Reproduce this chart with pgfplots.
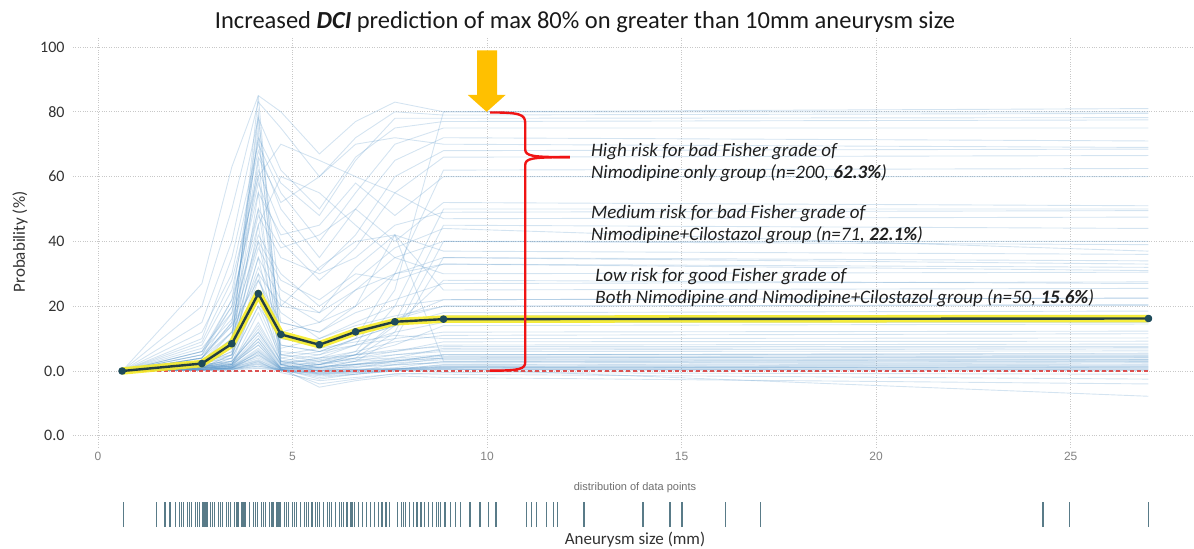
\documentclass[border=0pt]{standalone}
\usepackage{fontspec}
\setmainfont{Carlito}
\newfontfamily\arialfont{Liberation Sans}
\usepackage{pgfplots}
\pgfplotsset{compat=1.18}

\definecolor{iceblue}{RGB}{90,150,200}
\definecolor{pdpyellow}{RGB}{245,235,40}
\definecolor{pdpdark}{RGB}{35,62,68}
\definecolor{pdpmark}{RGB}{30,75,90}
\definecolor{zeroline}{RGB}{220,80,80}
\definecolor{rugcol}{RGB}{60,100,115}
\definecolor{arrowcol}{RGB}{255,192,0}
\definecolor{bracered}{RGB}{240,20,20}
\definecolor{gridcol}{RGB}{200,200,200}
\definecolor{labcol}{RGB}{50,50,50}

\pgfplotsset{ice/.style={iceblue, opacity=0.26, line width=0.9bp}}

\begin{document}
\begin{tikzpicture}
\begin{axis}[
    at={(0,0)}, anchor=south west,
    scale only axis,
    width=1121bp, height=411bp,
    xmin=-0.643, xmax=28.17,
    ymin=-23.46, ymax=103.4,
    axis line style={draw=none},
    major tick length=0pt,
    xtick={0,5,10,15,20,25},
    xticklabels={0,5,10,15,20,25},
    ytick={-20,0,20,40,60,80,100},
    yticklabels={0.0,0.0,20,40,60,80,100},
    xticklabel style={font=\arialfont\fontsize{12bp}{14bp}\selectfont, text={rgb,255:red,130;green,130;blue,130}, yshift=-2bp},
    yticklabel style={font=\fontsize{16bp}{18bp}\selectfont, text=labcol, xshift=-5bp},
    grid=major,
    grid style={gridcol, dotted, line width=0.7bp},
]

% individual conditional expectation curves
\addplot[ice] coordinates {(0.62,0) (2.67,0.5) (3.44,0.8) (4.12,1.5) (4.70,0.5) (5.69,0.3) (6.62,0.5) (7.63,0.8) (8.88,1.0) (27,1.2)};
\addplot[ice] coordinates {(0.62,0) (2.67,0.3) (3.44,0.5) (4.12,2.5) (4.70,0.2) (5.69,-0.5) (6.62,0) (7.63,0.5) (8.88,1.5) (27,1.8)};
\addplot[ice] coordinates {(0.62,0) (2.67,1) (3.44,1.2) (4.12,4) (4.70,0.5) (5.69,-1) (6.62,-0.5) (7.63,0.5) (8.88,2) (27,2.5)};
\addplot[ice] coordinates {(0.62,0) (2.67,0.5) (3.44,1) (4.12,6) (4.70,1) (5.69,0) (6.62,0.5) (7.63,1) (8.88,3) (27,3.2)};
\addplot[ice] coordinates {(0.62,0) (2.67,1.5) (3.44,2) (4.12,8) (4.70,0.5) (5.69,-2) (6.62,-1) (7.63,0) (8.88,0.5) (27,0.3)};
\addplot[ice] coordinates {(0.62,0) (2.67,0.2) (3.44,0.4) (4.12,3) (4.70,-0.5) (5.69,-3) (6.62,-2) (7.63,-1) (8.88,-0.5) (27,-1)};
\addplot[ice] coordinates {(0.62,0) (2.67,0.8) (3.44,1.5) (4.12,10) (4.70,1.5) (5.69,1) (6.62,2) (7.63,3) (8.88,4) (27,4.5)};
\addplot[ice] coordinates {(0.62,0) (2.67,2) (3.44,3) (4.12,12) (4.70,2) (5.69,2.5) (6.62,3.5) (7.63,4) (8.88,5) (27,5.2)};
\addplot[ice] coordinates {(0.62,0) (2.67,0.5) (3.44,0.8) (4.12,5) (4.70,0.8) (5.69,-5) (6.62,-3) (7.63,-1.5) (8.88,-2) (27,-4)};
\addplot[ice] coordinates {(0.62,0) (2.67,1) (3.44,2) (4.12,15) (4.70,3) (5.69,3) (6.62,4) (7.63,5) (8.88,6.5) (27,6.8)};
\addplot[ice] coordinates {(0.62,0) (2.67,0.3) (3.44,0.6) (4.12,2) (4.70,0) (5.69,-1.5) (6.62,-1) (7.63,0) (8.88,0.8) (27,-7.8)};
\addplot[ice] coordinates {(0.62,0) (2.67,1.2) (3.44,1.5) (4.12,7) (4.70,1) (5.69,1.5) (6.62,2) (7.63,2.5) (8.88,3.5) (27,3.6)};
\addplot[ice] coordinates {(0.62,0) (2.67,0.6) (3.44,1.8) (4.12,18) (4.70,2.5) (5.69,4) (6.62,5) (7.63,6) (8.88,8) (27,8.3)};
\addplot[ice] coordinates {(0.62,0) (2.67,1.8) (3.44,2.5) (4.12,9) (4.70,0.8) (5.69,0.5) (6.62,1.5) (7.63,2) (8.88,2.5) (27,2.8)};
\addplot[ice] coordinates {(0.62,0) (2.67,0.4) (3.44,0.7) (4.12,1) (4.70,0.4) (5.69,0.2) (6.62,0.4) (7.63,0.6) (8.88,0.7) (27,0.8)};
\addplot[ice] coordinates {(0.62,0) (2.67,2.5) (3.44,4) (4.12,20) (4.70,4) (5.69,6) (6.62,8) (7.63,10) (8.88,12) (27,12.3)};
\addplot[ice] coordinates {(0.62,0) (2.67,0.9) (3.44,1.4) (4.12,4.5) (4.70,0.6) (5.69,-2.5) (6.62,-1) (7.63,0.5) (8.88,1.2) (27,1)};
\addplot[ice] coordinates {(0.62,0) (2.67,3) (3.44,5) (4.12,22) (4.70,5) (5.69,7) (6.62,9) (7.63,11) (8.88,10) (27,10.2)};
\addplot[ice] coordinates {(0.62,0) (2.67,1.5) (3.44,2.2) (4.12,11) (4.70,1.8) (5.69,2) (6.62,3) (7.63,3.5) (8.88,4.5) (27,4.3)};
\addplot[ice] coordinates {(0.62,0) (2.67,0.2) (3.44,0.3) (4.12,0.8) (4.70,0.1) (5.69,-0.8) (6.62,-0.3) (7.63,0.2) (8.88,0.3) (27,0.2)};
\addplot[ice] coordinates {(0.62,0) (2.67,2) (3.44,8) (4.12,85) (4.70,5) (5.69,3) (6.62,5) (7.63,8) (8.88,14) (27,14.5)};
\addplot[ice] coordinates {(0.62,0) (2.67,3) (3.44,10) (4.12,80) (4.70,8) (5.69,6) (6.62,10) (7.63,14) (8.88,18) (27,18.5)};
\addplot[ice] coordinates {(0.62,0) (2.67,1) (3.44,5) (4.12,75) (4.70,3) (5.69,1) (6.62,2) (7.63,4) (8.88,7) (27,7.2)};
\addplot[ice] coordinates {(0.62,0) (2.67,4) (3.44,15) (4.12,72) (4.70,10) (5.69,8) (6.62,12) (7.63,16) (8.88,22) (27,22.5)};
\addplot[ice] coordinates {(0.62,0) (2.67,2) (3.44,6) (4.12,65) (4.70,4) (5.69,2) (6.62,4) (7.63,6) (8.88,9) (27,9.2)};
\addplot[ice] coordinates {(0.62,0) (2.67,5) (3.44,20) (4.12,60) (4.70,15) (5.69,12) (6.62,18) (7.63,22) (8.88,27) (27,27.5)};
\addplot[ice] coordinates {(0.62,0) (2.67,1) (3.44,4) (4.12,55) (4.70,2) (5.69,0) (6.62,1) (7.63,3) (8.88,5) (27,5.5)};
\addplot[ice] coordinates {(0.62,0) (2.67,2) (3.44,12) (4.12,50) (4.70,6) (5.69,5) (6.62,8) (7.63,12) (8.88,15) (27,15)};
\addplot[ice] coordinates {(0.62,0) (2.67,1) (3.44,3) (4.12,45) (4.70,2) (5.69,-1) (6.62,0) (7.63,2) (8.88,4) (27,4)};
\addplot[ice] coordinates {(0.62,0) (2.67,3) (3.44,9) (4.12,40) (4.70,7) (5.69,10) (6.62,14) (7.63,17) (8.88,20) (27,20.2)};
\addplot[ice] coordinates {(0.62,0) (2.67,2) (3.44,7) (4.12,35) (4.70,5) (5.69,4) (6.62,6) (7.63,9) (8.88,11) (27,11.5)};
\addplot[ice] coordinates {(0.62,0) (2.67,1) (3.44,5) (4.12,30) (4.70,3) (5.69,1) (6.62,3) (7.63,5) (8.88,6) (27,6.2)};
\addplot[ice] coordinates {(0.62,0) (2.67,4) (3.44,14) (4.12,28) (4.70,12) (5.69,15) (6.62,20) (7.63,30) (8.88,33) (27,32)};
\addplot[ice] coordinates {(0.62,0) (2.67,1) (3.44,2) (4.12,25) (4.70,2) (5.69,0) (6.62,2) (7.63,3) (8.88,5) (27,4.8)};
\addplot[ice] coordinates {(0.62,0) (2.67,2) (3.44,10) (4.12,78) (4.70,20) (5.69,18) (6.62,25) (7.63,30) (8.88,35) (27,34)};
\addplot[ice] coordinates {(0.62,0) (2.67,27) (3.44,63) (4.12,85) (4.70,80) (5.69,67) (6.62,77) (7.63,83) (8.88,80) (27,80)};
\addplot[ice] coordinates {(0.62,0) (2.67,20) (3.44,50) (4.12,83) (4.70,75) (5.69,60) (6.62,72) (7.63,80) (8.88,79) (27,79.5)};
\addplot[ice] coordinates {(0.62,0) (2.67,15) (3.44,40) (4.12,78) (4.70,62) (5.69,50) (6.62,66) (7.63,75) (8.88,77) (27,77.5)};
\addplot[ice] coordinates {(0.62,0) (2.67,10) (3.44,35) (4.12,70) (4.70,55) (5.69,40) (6.62,55) (7.63,70) (8.88,75) (27,75)};
\addplot[ice] coordinates {(0.62,0) (2.67,12) (3.44,30) (4.12,68) (4.70,50) (5.69,35) (6.62,50) (7.63,65) (8.88,72) (27,71)};
\addplot[ice] coordinates {(0.62,0) (2.67,8) (3.44,25) (4.12,62) (4.70,45) (5.69,31) (6.62,42) (7.63,60) (8.88,68) (27,68.5)};
\addplot[ice] coordinates {(0.62,0) (2.67,6) (3.44,20) (4.12,58) (4.70,40) (5.69,28) (6.62,38) (7.63,55) (8.88,66) (27,66.5)};
\addplot[ice] coordinates {(0.62,0) (2.67,5) (3.44,22) (4.12,55) (4.70,42) (5.69,45) (6.62,58) (7.63,48) (8.88,60) (27,60)};
\addplot[ice] coordinates {(0.62,0) (2.67,7) (3.44,18) (4.12,50) (4.70,38) (5.69,42) (6.62,50) (7.63,40) (8.88,52) (27,51)};
\addplot[ice] coordinates {(0.62,0) (2.67,4) (3.44,15) (4.12,48) (4.70,35) (5.69,30) (6.62,35) (7.63,45) (8.88,49) (27,49.5)};
\addplot[ice] coordinates {(0.62,0) (2.67,9) (3.44,28) (4.12,60) (4.70,70) (5.69,65) (6.62,60) (7.63,55) (8.88,47) (27,47.5)};
\addplot[ice] coordinates {(0.62,0) (2.67,3) (3.44,12) (4.12,42) (4.70,30) (5.69,20) (6.62,28) (7.63,38) (8.88,44) (27,37)};
\addplot[ice] coordinates {(0.62,0) (2.67,6) (3.44,16) (4.12,45) (4.70,60) (5.69,55) (6.62,45) (7.63,35) (8.88,40) (27,40)};
\addplot[ice] coordinates {(0.62,0) (2.67,2) (3.44,10) (4.12,38) (4.70,25) (5.69,18) (6.62,32) (7.63,42) (8.88,37) (27,36)};
\addplot[ice] coordinates {(0.62,0) (2.67,5) (3.44,14) (4.12,40) (4.70,28) (5.69,22) (6.62,30) (7.63,28) (8.88,33) (27,31)};
\addplot[ice] coordinates {(0.62,0) (2.67,3) (3.44,8) (4.12,35) (4.70,22) (5.69,15) (6.62,25) (7.63,35) (8.88,30) (27,30.5)};
\addplot[ice] coordinates {(0.62,0) (2.67,4) (3.44,12) (4.12,30) (4.70,20) (5.69,32) (6.62,40) (7.63,42) (8.88,25) (27,25.5)};
\addplot[ice] coordinates {(0.62,0) (2.67,2) (3.44,6) (4.12,28) (4.70,15) (5.69,12) (6.62,20) (7.63,42) (8.88,3) (27,3.5)};
\addplot[ice] coordinates {(0.62,0) (2.67,3) (3.44,9) (4.12,32) (4.70,18) (5.69,10) (6.62,15) (7.63,20) (8.88,22) (27,22.5)};
\addplot[ice] coordinates {(0.62,0) (2.67,1) (3.44,4) (4.12,20) (4.70,10) (5.69,8) (6.62,12) (7.63,16) (8.88,20) (27,20.5)};
\addplot[ice] coordinates {(0.62,0) (2.67,2) (3.44,5) (4.12,24) (4.70,8) (5.69,6) (6.62,10) (7.63,14) (8.88,17) (27,17.2)};
\addplot[ice] coordinates {(0.62,0) (2.67,4) (3.44,18) (4.12,66) (4.70,52) (5.69,60) (6.62,70) (7.63,72) (8.88,70) (27,69)};
\addplot[ice] coordinates {(0.62,0) (2.67,6) (3.44,22) (4.12,72) (4.70,58) (5.69,48) (6.62,65) (7.63,78) (8.88,78) (27,78.2)};
\addplot[ice] coordinates {(0.62,0) (2.67,1) (3.44,2) (4.12,8) (4.70,1) (5.69,2) (6.62,5) (7.63,15) (8.88,45) (27,44)};
\addplot[ice] coordinates {(0.62,0) (2.67,0.5) (3.44,1) (4.12,5) (4.70,0.5) (5.69,1) (6.62,3) (7.63,10) (8.88,35) (27,33)};
\addplot[ice] coordinates {(0.62,0) (2.67,2) (3.44,3) (4.12,12) (4.70,2) (5.69,4) (6.62,8) (7.63,25) (8.88,80) (27,81)};
\addplot[ice] coordinates {(0.62,0) (2.67,1) (3.44,2) (4.12,10) (4.70,1) (5.69,3) (6.62,6) (7.63,20) (8.88,50) (27,50)};
\addplot[ice] coordinates {(0.62,0) (2.67,0.5) (3.44,1) (4.12,6) (4.70,0.5) (5.69,2) (6.62,4) (7.63,12) (8.88,40) (27,39)};
\addplot[ice] coordinates {(0.62,0) (2.67,1) (3.44,3) (4.12,14) (4.70,3) (5.69,5) (6.62,10) (7.63,30) (8.88,62) (27,62.5)};
\addplot[ice] coordinates {(0.62,0) (2.67,0.8) (3.44,1.5) (4.12,9) (4.70,1) (5.69,2) (6.62,5) (7.63,14) (8.88,28) (27,27)};
\addplot[ice] coordinates {(0.62,0) (2.67,0.2) (3.44,0.4) (4.12,1.5) (4.70,0.2) (5.69,0.1) (6.62,0.3) (7.63,0.4) (8.88,0.6) (27,0.5)};
\addplot[ice] coordinates {(0.62,0) (2.67,0.6) (3.44,1.0) (4.12,3.5) (4.70,0.3) (5.69,-1.2) (6.62,-0.6) (7.63,0.2) (8.88,1.1) (27,1.3)};
\addplot[ice] coordinates {(0.62,0) (2.67,0.4) (3.44,0.9) (4.12,2.8) (4.70,0.2) (5.69,-0.3) (6.62,0.2) (7.63,0.7) (8.88,1.8) (27,2.1)};
\addplot[ice] coordinates {(0.62,0) (2.67,1.1) (3.44,1.6) (4.12,5.5) (4.70,0.7) (5.69,0.8) (6.62,1.2) (7.63,1.8) (8.88,2.8) (27,2.9)};
\addplot[ice] coordinates {(0.62,0) (2.67,0.7) (3.44,1.1) (4.12,3.2) (4.70,0.4) (5.69,-0.6) (6.62,0) (7.63,0.6) (8.88,1.4) (27,1.5)};
\addplot[ice] coordinates {(0.62,0) (2.67,1.4) (3.44,2.4) (4.12,13) (4.70,2.2) (5.69,3.5) (6.62,5) (7.63,6.5) (8.88,7.5) (27,7.6)};
\addplot[ice] coordinates {(0.62,0) (2.67,0.5) (3.44,0.9) (4.12,2.2) (4.70,0.3) (5.69,-4) (6.62,-2.5) (7.63,-0.8) (8.88,-1) (27,-2.5)};
\addplot[ice] coordinates {(0.62,0) (2.67,0.9) (3.44,1.3) (4.12,6.5) (4.70,0.9) (5.69,1.2) (6.62,2.2) (7.63,3.2) (8.88,4) (27,4.1)};

% zero reference
\addplot[zeroline, line width=1.2bp, dash pattern=on 4bp off 3bp] coordinates {(0.62,0) (27,0)};

% partial dependence (average)
\addplot[pdpyellow, opacity=0.9, line width=7.5bp, line join=round] coordinates {
  (0.62,0) (2.67,2.3) (3.44,8.4) (4.12,23.9) (4.70,11.3) (5.69,8.1) (6.62,12.1) (7.63,15.2) (8.88,16.0) (27,16.2)};
\addplot[pdpdark, line width=2.4bp, line join=round, mark=*, mark size=2.6bp, mark options={fill=pdpmark, draw=pdpmark}] coordinates {
  (0.62,0) (2.67,2.3) (3.44,8.4) (4.12,23.9) (4.70,11.3) (5.69,8.1) (6.62,12.1) (7.63,15.2) (8.88,16.0) (27,16.2)};

% annotations
\fill[arrowcol] (axis cs:9.743,99) -- (axis cs:10.257,99) -- (axis cs:10.257,85.2) -- (axis cs:10.476,85.2)
  -- (axis cs:9.99,80) -- (axis cs:9.504,85.2) -- (axis cs:9.743,85.2) -- cycle;
\draw[bracered, line width=2.4bp] (axis cs:10.08,79.8) .. controls (axis cs:10.85,79.8) and (axis cs:10.98,79.2) .. (axis cs:10.98,76.5)
  -- (axis cs:10.98,68.5) .. controls (axis cs:10.98,66.3) and (axis cs:11.15,66) .. (axis cs:12.13,66);
\draw[bracered, line width=2.4bp] (axis cs:12.13,66) .. controls (axis cs:11.15,66) and (axis cs:10.98,65.7) .. (axis cs:10.98,63.5)
  -- (axis cs:10.98,2.8) .. controls (axis cs:10.98,0.6) and (axis cs:10.85,0.1) .. (axis cs:10.08,0.1);

\node[anchor=west, align=left, inner sep=0pt, text=black!88, font=\itshape\fontsize{19bp}{22bp}\selectfont] at (axis cs:12.67,64.2)
  {High risk for bad Fisher grade of\\Nimodipine only group (n=200, \textbf{62.3\%})};
\node[anchor=west, align=left, inner sep=0pt, text=black!88, font=\itshape\fontsize{19bp}{22bp}\selectfont] at (axis cs:12.67,45.1)
  {Medium risk for bad Fisher grade of\\Nimodipine+Cilostazol group (n=71, \textbf{22.1\%})};
\node[anchor=west, align=left, inner sep=0pt, text=black!88, font=\itshape\fontsize{19bp}{22bp}\selectfont] at (axis cs:12.78,25.9)
  {Low risk for good Fisher grade of\\Both Nimodipine and Nimodipine+Cilostazol group (n=50, \textbf{15.6\%})};
\end{axis}

% rug of observed aneurysm sizes
\begin{axis}[
    at={(0,-80bp)}, anchor=south west,
    scale only axis,
    width=1121bp, height=25bp,
    xmin=-0.643, xmax=28.17,
    ymin=0, ymax=1,
    hide axis,
]
\addplot[ycomb, rugcol, opacity=0.85, line width=1.2bp] coordinates {
  (0.65,1) (1.51,1) (1.72,1) (1.85,1)
  (2.0,1) (2.1,1) (2.15,1) (2.2,1) (2.3,1) (2.35,1) (2.4,1) (2.5,1) (2.55,1) (2.6,1)
  (2.7,1) (2.75,1) (2.8,1) (2.9,1) (2.95,1) (3.0,1) (3.1,1) (3.15,1) (3.2,1) (3.3,1)
  (3.35,1) (3.4,1) (3.5,1) (3.55,1) (3.6,1) (3.7,1) (3.75,1) (3.8,1) (3.9,1) (4.0,1)
  (4.05,1) (4.1,1) (4.2,1) (4.25,1) (4.3,1) (4.4,1) (4.45,1) (4.5,1) (4.6,1) (4.65,1)
  (4.7,1) (4.8,1) (4.85,1) (4.9,1) (5.0,1) (5.05,1) (5.1,1) (5.2,1) (5.3,1) (5.35,1)
  (5.4,1) (5.5,1) (5.6,1) (5.65,1) (5.7,1) (5.8,1) (5.9,1) (5.95,1) (6.0,1) (6.1,1)
  (6.2,1) (6.25,1) (6.3,1) (6.4,1) (6.5,1) (6.55,1) (6.6,1) (6.7,1) (6.8,1) (6.9,1)
  (7.0,1) (7.1,1) (7.2,1) (7.3,1) (7.4,1) (7.5,1) (7.7,1) (7.8,1) (7.85,1) (7.9,1)
  (8.0,1) (8.1,1) (8.2,1) (8.3,1) (8.4,1) (8.5,1) (8.6,1) (8.7,1) (8.75,1) (8.8,1)
  (8.92,1) (9.05,1) (9.18,1) (9.31,1) (9.56,1) (9.82,1) (10.03,1) (10.23,1)
  (11.02,1) (11.15,1) (11.28,1) (11.53,1) (11.70,1) (11.82,1) (12.49,1)
  (14.01,1) (14.70,1) (15.01,1) (16.12,1) (17.02,1) (24.29,1) (24.96,1) (26.99,1)};
\end{axis}

\node[font=\fontsize{24.5bp}{28bp}\selectfont, text=black!90] at (512bp,425bp)
  {Increased \textbf{\textit{DCI}} prediction of max 80\% on greater than 10mm aneurysm size};
\node[rotate=90, font=\fontsize{17bp}{20bp}\selectfont, text=labcol] at (-53bp,205bp) {Probability (\%)};
\node[font=\arialfont\fontsize{11bp}{13bp}\selectfont, text={rgb,255:red,110;green,110;blue,110}] at (562bp,-41bp) {distribution of data points};
\node[font=\fontsize{17bp}{20bp}\selectfont, text=labcol] at (562bp,-93bp) {Aneurysm size (mm)};

\pgfresetboundingbox
\useasboundingbox (-73bp,-102bp) rectangle (1121bp,447bp);
\end{tikzpicture}
\end{document}
